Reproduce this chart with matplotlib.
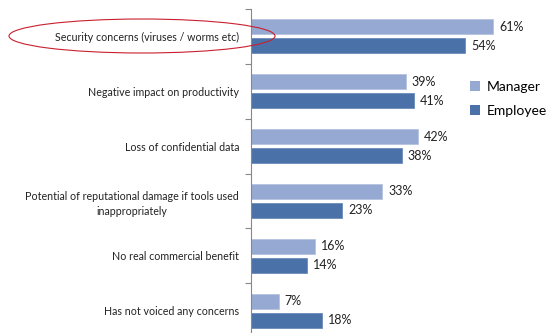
import matplotlib
matplotlib.use("Agg")
import matplotlib.pyplot as plt
from matplotlib.patches import Ellipse, Patch

categories = [
    "Security concerns (viruses / worms etc)",
    "Negative impact on productivity",
    "Loss of confidential data",
    "Potential of reputational damage if tools used\ninappropriately",
    "No real commercial benefit",
    "Has not voiced any concerns",
]
manager = [61, 39, 42, 33, 16, 7]
employee = [54, 41, 38, 23, 14, 18]
series_names = ["Manager", "Employee"]

c_man = "#95A9D2"
c_emp = "#4A72A9"

plt.rcParams['font.family'] = ['Lato', 'DejaVu Sans']

fig = plt.figure(figsize=(5.49, 3.33), dpi=100)
ax = fig.add_axes([251/549, 1-338/333, 278/549, 329/333])

n = len(categories)
centers = [i + 0.5 for i in range(n)]
off = 9.5/55
h = 15/55
ym = [c - off for c in centers]
ye = [c + off for c in centers]
ax.barh(ym, manager, height=h, color=c_man, edgecolor="#B4C3E0", linewidth=0.6)
ax.barh(ye, employee, height=h, color=c_emp, edgecolor="#6A8CBB", linewidth=0.6)

for y, v in zip(ym, manager):
    ax.text(v + 1.5, y, f"{v}%", va="center", ha="left", fontsize=9, color="#222222")
for y, v in zip(ye, employee):
    ax.text(v + 1.5, y, f"{v}%", va="center", ha="left", fontsize=9, color="#222222")

ax.set_xlim(0, 70)
ax.set_ylim(n, 0)
ax.set_yticks(centers)
ax.set_yticklabels(categories, fontsize=7.7, color="#222222")
for t in ax.get_yticklabels():
    t.set_multialignment("center")
    t.set_linespacing(1.5)
ax.tick_params(axis="y", which="major", length=0, pad=8.6)
ax.set_yticks(range(n + 1), minor=True)
ax.tick_params(axis="y", which="minor", length=4, color="#888888", width=0.8, direction="out")
ax.set_xticks([])
for s in ["top", "right", "bottom"]:
    ax.spines[s].set_visible(False)
ax.spines["left"].set_color("#888888")
ax.spines["left"].set_linewidth(0.8)

handles = [Patch(facecolor=c_man, edgecolor="none"), Patch(facecolor=c_emp, edgecolor="none")]
fig.legend(handles, series_names, loc="upper left", bbox_to_anchor=(470/549, 1-81/333),
           frameon=False, fontsize=10, handlelength=0.75, handleheight=0.75,
           handletextpad=0.45, labelspacing=0.85, borderpad=0, borderaxespad=0)

ell = Ellipse((142/549, 1-36/333), 266/549, 34/333, transform=fig.transFigure,
              fill=False, edgecolor="#C8202E", linewidth=0.8)
fig.patches.append(ell)

fig.savefig("out.png", dpi=100)
